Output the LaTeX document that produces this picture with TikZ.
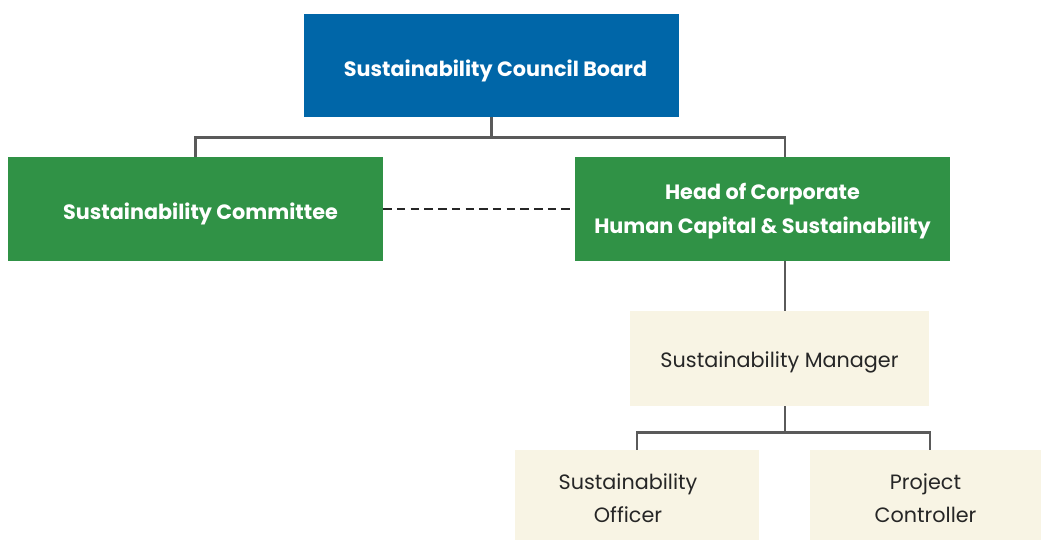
\documentclass[tikz,border=0pt]{standalone}
\usepackage{fontspec}
\setmainfont{Poppins}
\usepackage{tikz}
\definecolor{boardblue}{RGB}{0,102,168}
\definecolor{orggreen}{RGB}{48,146,70}
\definecolor{cream}{RGB}{248,244,228}
\definecolor{linegrey}{RGB}{90,90,90}
\tikzset{
  boardbox/.style={fill=boardblue, inner sep=0pt},
  greenbox/.style={fill=orggreen, inner sep=0pt},
  creambox/.style={fill=cream, inner sep=0pt},
  boldtext/.style={text=white, font=\bfseries\fontsize{11.8}{19}\selectfont, align=center, inner sep=0pt},
  plaintext/.style={text=black!85, font=\fontsize{11.8}{19}\selectfont, align=center, inner sep=0pt},
  link/.style={draw=linegrey, line width=1.4pt},
  dotlink/.style={draw=black!85, line width=1.6pt, dash pattern=on 4.8pt off 3pt}
}
\begin{document}
\begin{tikzpicture}[x=0.02cm, y=-0.02cm]
				\useasboundingbox (0,0) rectangle (1041,540);
				
				\node [boardbox, minimum width=7.5cm, minimum height=2.06cm,
				  label={[boldtext, yshift=-0.1cm, xshift=0.08cm]center:Sustainability Council Board}] (board) at (491.5, 65.5) {};
				
				\node [greenbox, minimum width=7.5cm, minimum height=2.08cm,
				  label={[boldtext, yshift=-0.1cm, xshift=0.1cm]center:Sustainability Committee}] (committee) at (195.5, 209) {};
				\node [greenbox, minimum width=7.5cm, minimum height=2.08cm,
				  label={[boldtext, yshift=-0.04cm]center:Head of Corporate\\Human Capital \& Sustainability}] (head) at (762.5, 209) {};
				
				\node [creambox, minimum width=5.98cm, minimum height=1.9cm,
				  label={[plaintext, yshift=-0.07cm]center:Sustainability Manager}] (manager) at (779.5, 358.5) {};
				
				\node [creambox, minimum width=4.88cm, minimum height=1.8cm,
				  label={[plaintext, yshift=-0.06cm, xshift=-0.18cm]center:Sustainability\\Officer}] (officer) at (637, 495) {};
				\node [creambox, minimum width=4.62cm, minimum height=1.8cm,
				  label={[plaintext, yshift=-0.06cm]center:Project\\Controller}] (controller) at (925.5, 495) {};
				
				\coordinate (hm) at (785, 0);
				\coordinate (cm) at (930, 0);
				
				\draw[link] (board.south) -- ++(0,20) -| (committee.north);
				\draw[link] (board.south) ++(0,20) -| (head.north -| hm);
				\draw[dotlink] (committee.east) -- (head.west);
				
				\draw[link] (head.south -| hm) -- (manager.north -| hm);
				\draw[link] (manager.south -| hm) -- ++(0,26) coordinate (mj);
				\draw[link] (mj) -| (officer.north);
				\draw[link] (mj) -| (controller.north -| cm);
			\end{tikzpicture}
\end{document}
